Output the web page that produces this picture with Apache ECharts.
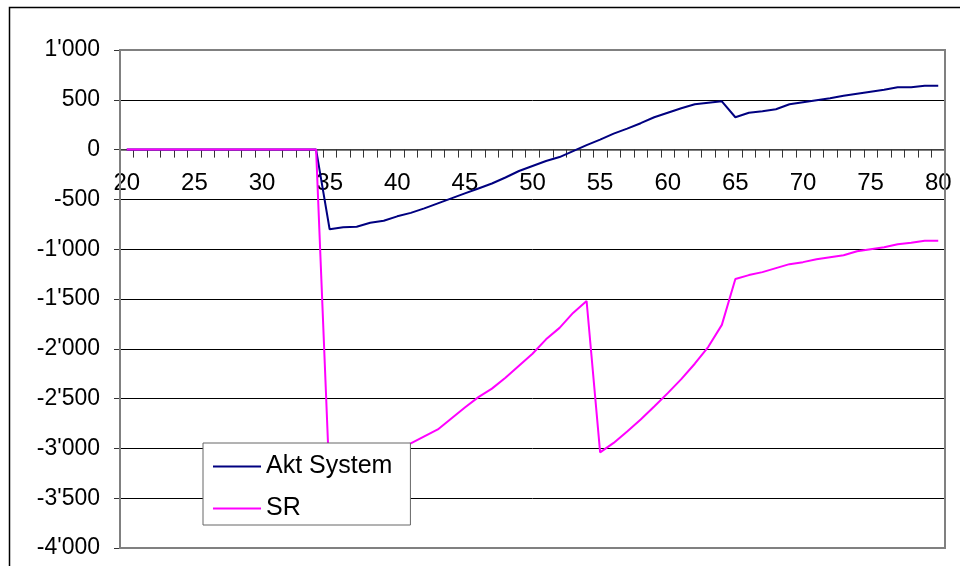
<!DOCTYPE html>
<html>
<head>
<meta charset="utf-8">
<script src="https://cdn.jsdelivr.net/npm/echarts@6/dist/echarts.min.js"></script>
<style>
html,body{margin:0;padding:0;background:#fff;}
#chart{width:960px;height:566px;}
</style>
</head>
<body>
<div id="chart"></div>
<script>
var years = [];
for (var y = 20; y <= 80; y++) years.push(String(y));

var aktSystem = [
  0,0,0,0,0,0,0,0,0,0,0,0,0,0,0,          // 20-34
  -800,-780,-775,-735,-715,-670,-635,-590,-540,-490, // 35-44
  -440,-390,-340,-280,-215,-165,-115,-75,-15,45,     // 45-54
  100,160,210,265,325,370,415,455,470,485,           // 55-64
  325,370,385,405,455,475,495,515,540,560,           // 65-74
  580,600,625,625,640,640                            // 75-80
];

var sr = [
  0,0,0,0,0,0,0,0,0,0,0,0,0,0,0,          // 20-34
  -3350,-3290,-3220,-3160,-3090,-3020,-2950,-2880,-2810,-2700, // 35-44
  -2590,-2485,-2400,-2290,-2170,-2050,-1905,-1790,-1640,-1520, // 45-54
  -3040,-2945,-2830,-2710,-2580,-2445,-2305,-2150,-1980,-1760, // 55-64
  -1300,-1260,-1230,-1190,-1150,-1130,-1100,-1080,-1060,-1020, // 65-74
  -1000,-980,-950,-935,-915,-915                               // 75-80
];

var seriesNames = ['Akt System', 'SR'];
var seriesColors = ['#000080', '#FF00FF'];
var yMin = -4000, yMax = 1000, yStep = 500;

function fmt(v) {
  var neg = v < 0;
  var s = String(Math.abs(v));
  s = s.replace(/\B(?=(\d{3})+(?!\d))/g, "'");
  return (neg ? '-' : '') + s;
}

var chart = echarts.init(document.getElementById('chart'), null, {renderer: 'canvas'});
var GL = 120, GT = 50, GR = 15, GB = 18;
var plotH = 566 - GT - GB;
var zeroOffset = -plotH * (0 - yMin) / (yMax - yMin);

chart.setOption({
  animation: false,
  backgroundColor: '#fff',
  textStyle: {fontFamily: 'Liberation Sans, Arial, sans-serif'},
  grid: {left: GL, right: GR, top: GT, bottom: GB, containLabel: false},
  legend: {
    data: seriesNames,
    orient: 'vertical',
    left: 203,
    top: 443,
    padding: [11, 18, 4, 10],
    itemGap: 17,
    itemWidth: 48,
    itemHeight: 2,
    icon: 'rect',
    backgroundColor: '#fff',
    borderColor: '#666',
    borderWidth: 1,
    textStyle: {fontSize: 25, color: '#000', fontFamily: 'Liberation Sans, Arial, sans-serif'}
  },
  xAxis: {
    type: 'category',
    data: years,
    boundaryGap: true,
    position: 'bottom',
    offset: zeroOffset,
    axisLine: {onZero: false, lineStyle: {color: '#555', width: 1.5}},
    axisTick: {show: true, interval: 0, length: 8, lineStyle: {color: '#333', width: 1}},
    axisLabel: {interval: 4, fontSize: 24, color: '#000', margin: 22, fontFamily: 'Liberation Sans, Arial, sans-serif'},
    splitLine: {show: false}
  },
  yAxis: {
    type: 'value',
    min: yMin,
    max: yMax,
    interval: yStep,
    axisLine: {show: true, lineStyle: {color: '#808080', width: 2}},
    axisTick: {show: true, inside: false, length: 6, lineStyle: {color: '#333', width: 1}},
    axisLabel: {fontSize: 23, color: '#000', margin: 20, formatter: fmt, fontFamily: 'Liberation Sans, Arial, sans-serif'},
    splitLine: {show: true, lineStyle: {color: '#000', width: 1}}
  },
  graphic: [
    {type: 'rect', left: 7, top: 5, z: 0, silent: true,
     shape: {x: 0, y: 0, width: 1000, height: 600},
     style: {fill: null, stroke: '#000', lineWidth: 1.5}},
    {type: 'rect', z: 50, silent: true,
     shape: {x: GL, y: GT, width: 960 - GL - GR, height: plotH},
     style: {fill: null, stroke: '#808080', lineWidth: 2}}
  ],
  series: [
    {name: seriesNames[0], type: 'line', data: aktSystem, showSymbol: false, symbol: 'none',
     lineStyle: {color: seriesColors[0], width: 2}, itemStyle: {color: seriesColors[0]}, z: 2},
    {name: seriesNames[1], type: 'line', data: sr, showSymbol: false, symbol: 'none',
     lineStyle: {color: seriesColors[1], width: 2}, itemStyle: {color: seriesColors[1]}, z: 3}
  ]
});
</script>
</body>
</html>
